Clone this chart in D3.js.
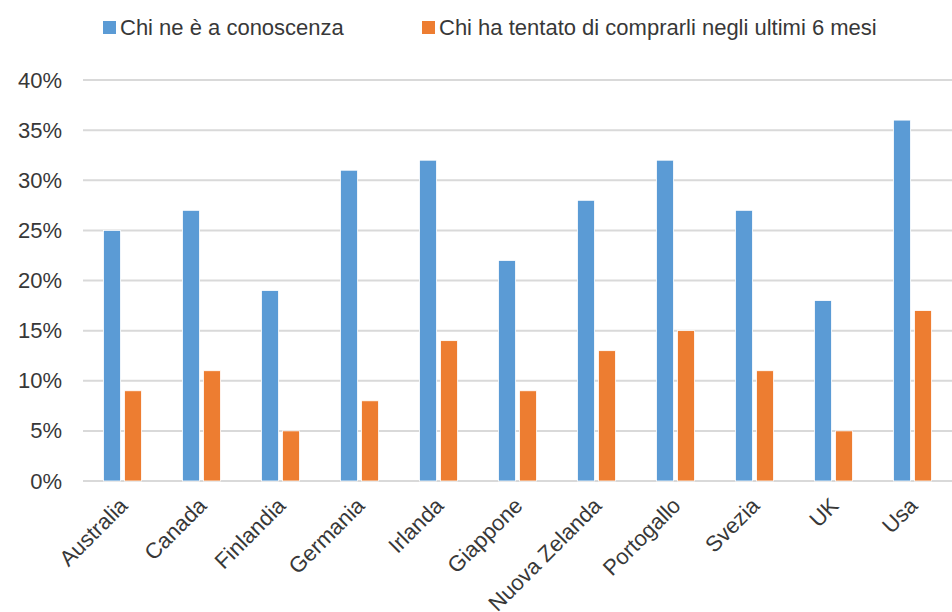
<!DOCTYPE html>
<html>
<head>
<meta charset="utf-8">
<script src="https://cdn.jsdelivr.net/npm/d3@7"></script>
<style>
  body { margin: 0; background: #fff; }
  svg text { font-family: "Liberation Sans", Arial, sans-serif; fill: #383838; }
</style>
</head>
<body>
<div id="canvas"></div>
<script>
const countries = ["Australia", "Canada", "Finlandia", "Germania", "Irlanda", "Giappone",
    "Nuova Zelanda", "Portogallo", "Svezia", "UK", "Usa"];
const conoscenza = [25, 27, 19, 31, 32, 22, 28, 32, 27, 18, 36];
const comprarli = [9, 11, 5, 8, 14, 9, 13, 15, 11, 5, 17];
const seriesNames = ["Chi ne è a conoscenza", "Chi ha tentato di comprarli negli ultimi 6 mesi"];
const seriesColors = ["#5b9bd5", "#ed7d31"];
const yTicks = [0, 5, 10, 15, 20, 25, 30, 35, 40];

const W = 952, H = 612;
const margin = { top: 80, right: 0, bottom: 131, left: 83 },
    width = W - margin.left - margin.right,
    height = H - margin.top - margin.bottom;

const svg = d3.select("#canvas")
    .append("svg")
    .attr("width", W)
    .attr("height", H);

const g = svg.append("g")
    .attr("transform", `translate(${margin.left},${margin.top})`);

const x = d3.scaleBand()
    .domain(countries)
    .range([0, width]);

const y = d3.scaleLinear()
    .domain([0, 40])
    .range([height, 0]);

// gridlines
g.append("g")
    .selectAll("line")
    .data(yTicks)
    .join("line")
    .attr("x1", 0)
    .attr("x2", width)
    .attr("y1", d => y(d))
    .attr("y2", d => y(d))
    .attr("stroke", "#d9d9d9")
    .attr("stroke-width", 2);

// y axis labels
const yAxis = g.append("g")
    .call(d3.axisLeft(y).tickValues(yTicks).tickFormat(d => d + "%").tickSize(0).tickPadding(21));
yAxis.select(".domain").remove();
yAxis.selectAll("text")
    .style("font-size", "22px")
    .attr("fill", "#383838");

// bars
const barW = 17, gap = 4;
const series = [conoscenza, comprarli];
series.forEach((vals, i) => {
    g.append("g")
        .selectAll("rect")
        .data(countries)
        .join("rect")
        .attr("x", d => x(d) + x.bandwidth() / 2 + (i === 0 ? -gap / 2 - barW : gap / 2))
        .attr("y", (d, j) => y(vals[j]))
        .attr("width", barW)
        .attr("height", (d, j) => height - y(vals[j]))
        .attr("fill", seriesColors[i])
        .attr("stroke", "#fff")
        .attr("stroke-width", 0.8);
});

// x axis labels
g.append("g")
    .selectAll("text")
    .data(countries)
    .join("text")
    .attr("transform", d => `translate(${x(d) + x.bandwidth() / 2 + 6.5},${height + 26}) rotate(-45)`)
    .attr("text-anchor", "end")
    .style("font-size", "22px")
    .text(d => d);

// legend
const legendX = [103, 422];
const legend = svg.append("g");
seriesNames.forEach((name, i) => {
    legend.append("rect")
        .attr("x", legendX[i])
        .attr("y", 21)
        .attr("width", 13)
        .attr("height", 13)
        .attr("fill", seriesColors[i]);
    legend.append("text")
        .attr("x", legendX[i] + 17)
        .attr("y", 35)
        .style("font-size", "22px")
        .text(name);
});
</script>
</body>
</html>
